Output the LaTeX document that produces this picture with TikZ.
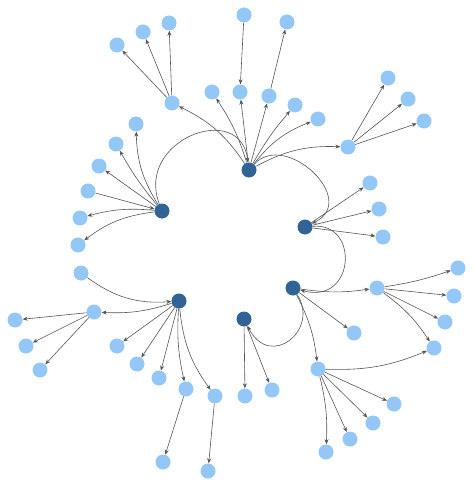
\documentclass[tikz,border=0pt]{standalone}
\usepackage{tikz}
\usetikzlibrary{arrows.meta}
\definecolor{hubblue}{RGB}{49,99,150}
\definecolor{leafblue}{RGB}{146,199,248}
\definecolor{edgegray}{RGB}{85,85,85}

\begin{document}
\begin{tikzpicture}[
    x=1pt, y=1pt,
    hub/.style={circle, fill=hubblue, minimum size=15pt, inner sep=0pt},
    leaf/.style={circle, fill=leafblue, minimum size=15pt, inner sep=0pt},
    link/.style={draw=edgegray, line width=0.6pt, -{Stealth[length=5pt,width=4pt]}}
]
    \useasboundingbox (0,0) rectangle (474,-487);

    % Hubs
    \node[hub] (h1) at (249,-170) {};
    \node[hub] (h2) at (162,-211) {};
    \node[hub] (h3) at (305,-227) {};
    \node[hub] (h4) at (293,-288) {};
    \node[hub] (h5) at (244,-319) {};
    \node[hub] (h6) at (179,-301) {};

    % Top fan
    \node[leaf] (a) at (172,-103) {};
    \node[leaf] (a1) at (169,-23) {};
    \node[leaf] (a2) at (143,-32) {};
    \node[leaf] (a3) at (117,-45) {};
    \node[leaf] (b) at (212,-92) {};
    \node[leaf] (c) at (240,-92) {};
    \node[leaf] (c0) at (244,-15) {};
    \node[leaf] (d) at (269,-96) {};
    \node[leaf] (d1) at (287,-22) {};
    \node[leaf] (e) at (295,-105) {};
    \node[leaf] (f) at (318,-119) {};
    \node[leaf] (g) at (348,-147) {};
    \node[leaf] (g1) at (388,-78) {};
    \node[leaf] (g2) at (408,-99) {};
    \node[leaf] (g3) at (424,-121) {};

    % Left fan
    \node[leaf] (l1) at (136,-124) {};
    \node[leaf] (l2) at (116,-144) {};
    \node[leaf] (l3) at (99,-166) {};
    \node[leaf] (l4) at (88,-191) {};
    \node[leaf] (l5) at (80,-218) {};
    \node[leaf] (l6) at (78,-245) {};

    % Right fans
    \node[leaf] (r1) at (370,-183) {};
    \node[leaf] (r2) at (379,-209) {};
    \node[leaf] (r3) at (383,-237) {};
    \node[leaf] (m) at (377,-288) {};
    \node[leaf] (m1) at (458,-268) {};
    \node[leaf] (m2) at (454,-296) {};
    \node[leaf] (m3) at (445,-322) {};
    \node[leaf] (m4) at (434,-348) {};
    \node[leaf] (n) at (354,-333) {};
    \node[leaf] (p) at (318,-369) {};
    \node[leaf] (p1) at (394,-404) {};
    \node[leaf] (p2) at (373,-423) {};
    \node[leaf] (p3) at (350,-439) {};
    \node[leaf] (p4) at (326,-452) {};
    \node[leaf] (s1) at (245,-396) {};
    \node[leaf] (s2) at (272,-390) {};

    % Bottom-left fan
    \node[leaf] (q0) at (81,-273) {};
    \node[leaf] (q) at (94,-312) {};
    \node[leaf] (q1) at (15,-320) {};
    \node[leaf] (q2) at (26,-346) {};
    \node[leaf] (q3) at (40,-370) {};
    \node[leaf] (t1) at (117,-346) {};
    \node[leaf] (t2) at (137,-364) {};
    \node[leaf] (t3) at (159,-378) {};
    \node[leaf] (t4) at (186,-389) {};
    \node[leaf] (t5) at (215,-396) {};
    \node[leaf] (u1) at (163,-462) {};
    \node[leaf] (u2) at (208,-471) {};

    % Hub to hub arcs
    \draw[link] (h2) .. controls (135,-140) and (240,-100) .. (h1);
    \draw[link] (h1) .. controls (285,-130) and (360,-200) .. (h3);
    \draw[link] (h3) .. controls (360,-222) and (355,-305) .. (h4);
    \draw[link] (h4) .. controls (320,-330) and (270,-370) .. (h5);

    % Top hub
    \draw[link] (h1) to[bend right=15] (a);
    \draw[link] (a) -- (a1);
    \draw[link] (a) -- (a2);
    \draw[link] (a) -- (a3);
    \draw[link] (h1) to[bend right=8] (b);
    \draw[link] (h1) -- (c);
    \draw[link] (c0) -- (c);
    \draw[link] (h1) -- (d);
    \draw[link] (d) -- (d1);
    \draw[link] (h1) to[bend left=5] (e);
    \draw[link] (h1) to[bend left=15] (f);
    \draw[link] (h1) to[bend left=15] (g);
    \draw[link] (g) -- (g1);
    \draw[link] (g) -- (g2);
    \draw[link] (g) -- (g3);

    % Left hub
    \draw[link] (h2) to[bend left=15] (l1);
    \draw[link] (h2) to[bend left=5] (l2);
    \draw[link] (h2) -- (l3);
    \draw[link] (l4) -- (h2);
    \draw[link] (h2) to[bend right=10] (l5);
    \draw[link] (h2) to[bend right=15] (l6);

    % Right hubs
    \draw[link] (h3) -- (r1);
    \draw[link] (h3) -- (r2);
    \draw[link] (h3) -- (r3);
    \draw[link] (h4) to[bend right=8] (m);
    \draw[link] (m) to[bend right=5] (m1);
    \draw[link] (m) -- (m2);
    \draw[link] (m) -- (m3);
    \draw[link] (m) to[bend left=10] (m4);
    \draw[link] (h4) -- (n);
    \draw[link] (h4) to[bend left=10] (p);
    \draw[link] (p) to[bend right=12] (m4);
    \draw[link] (p) -- (p1);
    \draw[link] (p) -- (p2);
    \draw[link] (p) -- (p3);
    \draw[link] (p) to[bend left=8] (p4);
    \draw[link] (h5) -- (s1);
    \draw[link] (h5) -- (s2);

    % Bottom-left hub
    \draw[link] (q0) to[bend right=20] (h6);
    \draw[link] (h6) to[bend left=10] (q);
    \draw[link] (q) -- (q1);
    \draw[link] (q) -- (q2);
    \draw[link] (q) -- (q3);
    \draw[link] (h6) -- (t1);
    \draw[link] (h6) -- (t2);
    \draw[link] (h6) -- (t3);
    \draw[link] (h6) to[bend right=8] (t4);
    \draw[link] (h6) to[bend right=15] (t5);
    \draw[link] (t4) -- (u1);
    \draw[link] (t5) -- (u2);
\end{tikzpicture}
\end{document}
